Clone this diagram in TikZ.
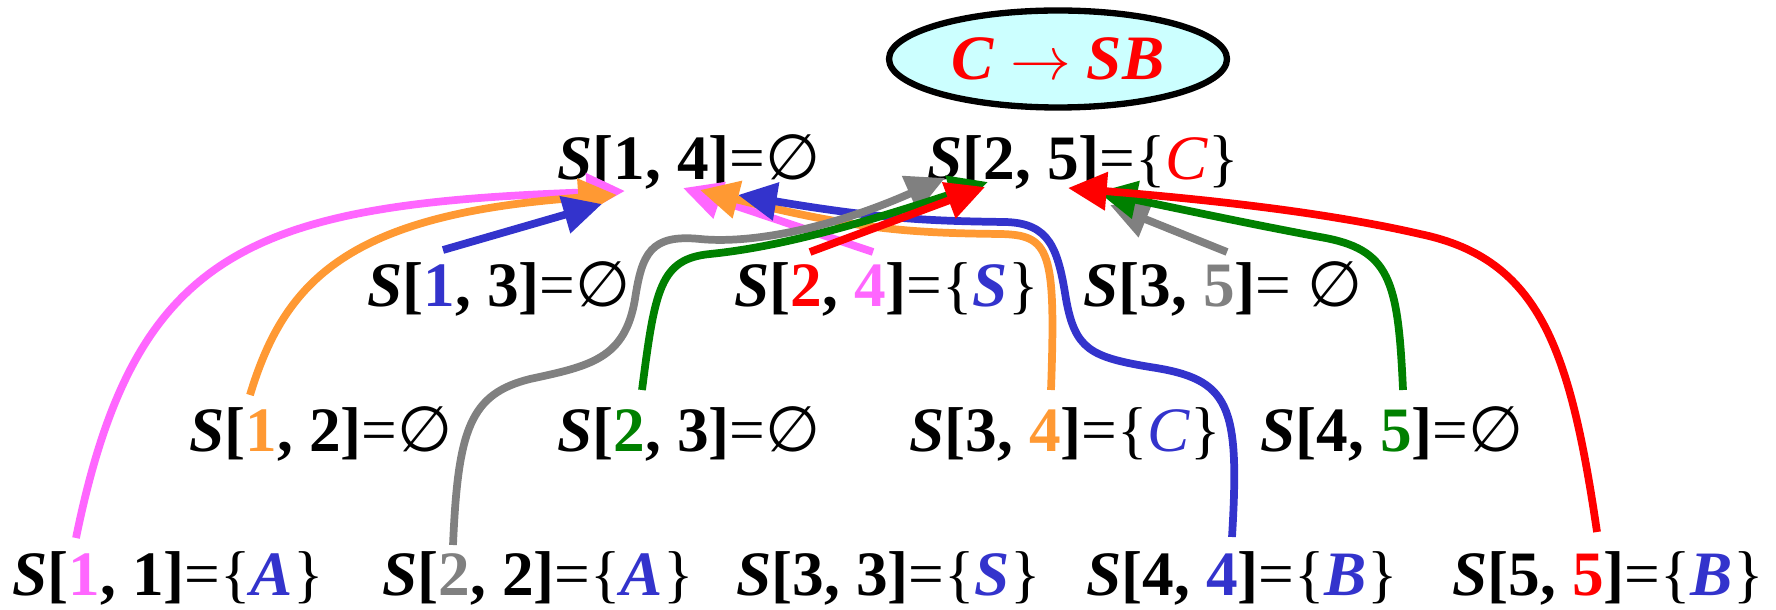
\documentclass[tikz,border=0pt]{standalone}
\usepackage{fontspec}
\setmainfont{Liberation Serif}
\newfontfamily\symfont{DejaVu Sans}
\usetikzlibrary{arrows.meta,shapes.geometric}

\definecolor{pinkc}{RGB}{255,102,255}
\definecolor{orangec}{RGB}{255,153,51}
\definecolor{bluec}{RGB}{51,51,204}
\definecolor{greyc}{RGB}{128,128,128}
\definecolor{greenc}{RGB}{0,128,0}
\definecolor{redc}{RGB}{255,0,0}
\definecolor{rulefill}{RGB}{204,255,255}

\newcommand{\Sij}[2]{\textbf{\textit{S}[#1, #2]}}
\newcommand{\setof}[1]{\{#1\}}
\newcommand{\nul}{{\symfont ∅}}
\newcommand{\vb}[1]{\textcolor{bluec}{\textbf{\textit{#1}}}}

\tikzset{
  cell/.style={anchor=base west, inner sep=0pt},
  link/.style={line width=2.2pt, -{Triangle[length=11pt,width=10.5pt]}},
}

\begin{document}
\begin{tikzpicture}[x=1cm,y=1cm,every node/.style={font=\fontsize{18}{20}\selectfont}]
\useasboundingbox (0,0) rectangle (17.76,6.09);

\node[draw, ellipse, line width=1.8pt, fill=rulefill, minimum width=3.38cm, minimum height=0.97cm, inner sep=0pt, text=redc] (rule) at (10.58,5.50) {\textbf{\textit{C}~$\rightarrow$~\textit{SB}}};

% row 1
\node[cell] (s14) at (5.57,4.29) {\Sij{1}{4}=\nul};
\node[cell] (s25) at (9.27,4.29) {\Sij{2}{5}=\setof{\textcolor{redc}{\textit{C}}}};
% row 2
\node[cell] (s13) at (3.67,3.02) {\Sij{\textcolor{bluec}{1}}{3}=\nul};
\node[cell] (s24) at (7.34,3.02) {\Sij{\textcolor{redc}{2}}{\textcolor{pinkc}{4}}=\setof{\vb{S}}};
\node[cell] (s35) at (10.83,3.02) {\Sij{3}{\textcolor{greyc}{5}}= \nul};
% row 3
\node[cell] (s12) at (1.89,1.57) {\Sij{\textcolor{orangec}{1}}{2}=\nul};
\node[cell] (s23) at (5.57,1.57) {\Sij{\textcolor{greenc}{2}}{3}=\nul};
\node[cell] (s34) at (9.09,1.57) {\Sij{3}{\textcolor{orangec}{4}}=\setof{\textcolor{bluec}{\textit{C}}}};
\node[cell] (s45) at (12.60,1.57) {\Sij{4}{\textcolor{greenc}{5}}=\nul};
% row 4
\node[cell] (s11) at (0.12,0.14) {\Sij{\textcolor{pinkc}{1}}{1}=\setof{\vb{A}}};
\node[cell] (s22) at (3.82,0.14) {\Sij{\textcolor{greyc}{2}}{2}=\setof{\vb{A}}};
\node[cell] (s33) at (7.36,0.14) {\Sij{3}{3}=\setof{\vb{S}}};
\node[cell] (s44) at (10.86,0.14) {\Sij{4}{\textcolor{bluec}{4}}=\setof{\vb{B}}};
\node[cell] (s55) at (14.52,0.14) {\Sij{5}{\textcolor{redc}{5}}=\setof{\vb{B}}};

% splits for S[1,4]
\draw[link, pinkc] ([shift={(0.64,0.57)}]s11.base west) .. controls (1.35,3.6) and (2.5,4.05) .. ([shift={(0.68,-0.11)}]s14.base west);
\draw[link, orangec] ([shift={(0.61,0.57)}]s12.base west) .. controls (2.85,3.3) and (3.5,3.95) .. ([shift={(0.60,-0.15)}]s14.base west);
\draw[link, bluec] ([shift={(0.76,0.57)}]s13.base west) -- ([shift={(0.45,-0.24)}]s14.base west);
\draw[link, pinkc] ([shift={(1.39,0.55)}]s24.base west) -- ([shift={(1.26,-0.08)}]s14.base west);
\draw[link, orangec] ([shift={(1.42,0.62)}]s34.base west) .. controls (10.56,3.6) and (10.5,3.74) .. (10.0,3.75)
  .. controls (9.2,3.76) and (8.6,3.78) .. ([shift={(1.43,-0.10)}]s14.base west);
\draw[link, bluec] ([shift={(1.46,0.58)}]s44.base west) .. controls (12.4,2.05) and (12.3,2.3) .. (11.5,2.42)
  .. controls (10.9,2.52) and (10.75,2.6) .. (10.66,3.1)
  .. controls (10.58,3.6) and (10.5,3.86) .. (10.05,3.87)
  .. controls (9.3,3.88) and (8.8,3.9) .. ([shift={(1.81,-0.15)}]s14.base west);

% splits for S[2,5]
\draw[link, greyc] ([shift={(0.71,0.50)}]s22.base west) .. controls (4.58,1.8) and (4.7,2.15) .. (5.3,2.3)
  .. controls (5.9,2.43) and (6.25,2.5) .. (6.35,3.1)
  .. controls (6.42,3.55) and (6.5,3.75) .. (7.0,3.7)
  .. controls (7.5,3.65) and (8.3,3.8) .. ([shift={(0.18,0.02)}]s25.base west);
\draw[link, greenc] ([shift={(0.85,0.62)}]s23.base west) .. controls (6.55,3.2) and (6.6,3.5) .. (7.1,3.55)
  .. controls (7.8,3.62) and (8.6,3.85) .. ([shift={(0.61,-0.02)}]s25.base west);
\draw[link, redc] ([shift={(0.76,0.55)}]s24.base west) -- ([shift={(0.58,-0.07)}]s25.base west);
\draw[link, greyc] ([shift={(1.44,0.55)}]s35.base west) -- ([shift={(1.83,-0.25)}]s25.base west);
\draw[link, greenc] ([shift={(1.43,0.62)}]s45.base west) .. controls (13.98,3.3) and (13.9,3.6) .. (13.2,3.72)
  .. controls (12.5,3.85) and (11.8,4.0) .. ([shift={(1.71,-0.12)}]s25.base west);
\draw[link, redc] ([shift={(1.45,0.63)}]s55.base west) .. controls (15.7,2.6) and (15.4,3.5) .. (14.2,3.75)
  .. controls (13.2,3.98) and (12.0,4.1) .. ([shift={(1.41,-0.08)}]s25.base west);
\end{tikzpicture}
\end{document}
